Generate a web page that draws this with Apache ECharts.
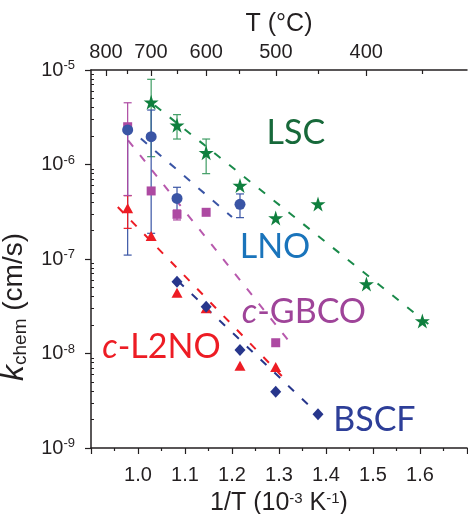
<!DOCTYPE html>
<html><head><meta charset="utf-8">
<script src="https://cdn.jsdelivr.net/npm/echarts@6/dist/echarts.min.js"></script>
<style>html,body{margin:0;padding:0;background:#fff}#c{width:468px;height:514px}</style>
</head><body><div id="c"></div>
<script>
// ---- data (x = 1/T in 10^-3 K^-1, y = k_chem in cm/s) ----
const lscX = [1.028, 1.083, 1.145, 1.217, 1.293, 1.383, 1.486, 1.605];
const lscK = [4.55e-6, 2.6e-6, 1.33e-6, 6.0e-7, 2.72e-7, 3.82e-7, 5.43e-8, 2.21e-8];
const lscErrX = [1.028, 1.083, 1.145];
const lscErrLo = [1.21e-6, 1.86e-6, 8.0e-7];
const lscErrHi = [7.97e-6, 3.37e-6, 1.86e-6];
const lscFitX = [1.036, 1.626];
const lscFitK = [4.21e-6, 1.90e-8];

const lnoX = [0.978, 1.028, 1.083, 1.217];
const lnoK = [2.32e-6, 1.97e-6, 4.38e-7, 3.79e-7];
const lnoErrX = [0.978, 1.028, 1.083, 1.217];
const lnoErrLo = [1.1e-7, 1.87e-7, 3.12e-7, 2.74e-7];
const lnoErrHi = [2.32e-6, 3.77e-6, 5.74e-7, 4.88e-7];
const lnoFitX = [1.006, 1.200];
const lnoFitK = [1.88e-6, 2.78e-7];

const gbcoX = [0.978, 1.028, 1.083, 1.145, 1.293];
const gbcoK = [2.51e-6, 5.25e-7, 2.97e-7, 3.12e-7, 1.30e-8];
const gbcoErrX = [0.978, 1.083];
const gbcoErrLo = [4.7e-7, 2.59e-7];
const gbcoErrHi = [4.5e-6, 3.3e-7];
const gbcoFitX = [0.979, 1.330];
const gbcoFitK = [1.80e-6, 1.19e-8];

const l2noX = [0.978, 1.028, 1.083, 1.145, 1.217, 1.293];
const l2noK = [3.44e-7, 1.75e-7, 4.39e-8, 3.01e-8, 7.4e-9, 7.2e-9];
const l2noErrX = [0.978];
const l2noErrLo = [2.11e-7];
const l2noErrHi = [4.68e-7];
const l2noFitX = [0.957, 1.306];
const l2noFitK = [3.55e-7, 5.78e-9];

const bscfX = [1.083, 1.145, 1.217, 1.293, 1.383];
const bscfK = [5.75e-8, 3.13e-8, 1.09e-8, 3.94e-9, 2.28e-9];
const bscfFitX = [1.085, 1.383];
const bscfFitK = [5.85e-8, 2.29e-9];

// ---- tick labels ----
const bottomTicks = [1.0, 1.1, 1.2, 1.3, 1.4, 1.5, 1.6];
const topTempMajor = [800, 700, 600, 500, 400];
const topTempMinor = [750, 650, 550, 450, 350];
const yDecades = [-9, -8, -7, -6, -5];
const yMinorMult = [2, 3, 4, 5, 6, 7, 8, 9];

// ---- annotation labels ----
const annotText = ['{n|LSC}', '{n|LNO}', '{i|c}{n|-GBCO}', '{i|c}{n|-L2NO}', '{n|BSCF}'];
const annotX = [1.336, 1.2915, 1.353, 1.050, 1.503];
const annotK = [2.15e-6, 1.34e-7, 2.75e-8, 1.17e-8, 1.98e-9];

// ---- colours ----
const C = {
  lsc: '#0f7f3e', lscErr: '#3f9d64', lscTxt: '#17693a',
  lno: '#3a55a5', lnoTxt: '#1a74bb',
  gbco: '#ad4aa2', gbcoTxt: '#9f4499',
  l2no: '#ed1c24',
  bscf: '#27368c', bscfTxt: '#2d3e98'
};
const AX = '#231f20';
const FONT = 'Liberation Sans';

const zip = (a, b) => a.map((v, i) => [v, b[i]]);
const zip3 = (a, b, c) => a.map((v, i) => [v, b[i], c[i]]);
const inv = t => 1000 / (t + 273.15);

const STAR = 'path://M50,0 L61.2,34.5 L97.6,34.5 L68.2,55.9 L79.4,90.5 L50,69.1 L20.6,90.5 L31.8,55.9 L2.4,34.5 L38.8,34.5 Z';

function errSeries(x, lo, hi, color) {
  return {
    type: 'custom', xAxisIndex: 0, yAxisIndex: 0, silent: true, z: 3,
    data: zip3(x, lo, hi),
    encode: { x: 0, y: [1, 2] },
    renderItem: function (params, api) {
      const xv = api.value(0);
      const p1 = api.coord([xv, api.value(2)]);
      const p2 = api.coord([xv, api.value(1)]);
      const w = 4;
      const st = { stroke: color, lineWidth: 1.2 };
      return {
        type: 'group', children: [
          { type: 'line', shape: { x1: p1[0], y1: p1[1], x2: p2[0], y2: p2[1] }, style: st },
          { type: 'line', shape: { x1: p1[0] - w, y1: p1[1], x2: p1[0] + w, y2: p1[1] }, style: st },
          { type: 'line', shape: { x1: p2[0] - w, y1: p2[1], x2: p2[0] + w, y2: p2[1] }, style: st }
        ]
      };
    }
  };
}
function fitSeries(x, k, color) {
  return {
    type: 'line', data: zip(x, k), symbol: 'none', silent: true, z: 2,
    lineStyle: { color: color, width: 2, type: [8, 11] }
  };
}
function markSeries(x, k, color, symbol, size) {
  return {
    type: 'scatter', data: zip(x, k), symbol: symbol, symbolSize: size, silent: true, z: 5,
    itemStyle: { color: color, opacity: 1 }
  };
}
function annotSeries() {
  return {
    type: 'custom', xAxisIndex: 0, yAxisIndex: 0, silent: true, z: 6,
    data: annotX.map((x, i) => [x, annotK[i], i]),
    encode: { x: 0, y: 1 },
    renderItem: function (params, api) {
      const i = api.value(2);
      const p = api.coord([api.value(0), api.value(1)]);
      const col = annotColors[i];
      return {
        type: 'text', x: p[0], y: p[1],
        style: {
          text: annotText[i], align: 'center', verticalAlign: 'middle',
          rich: {
            n: { fontSize: 34, fontFamily: 'Lato', fill: col },
            i: { fontSize: 34, fontFamily: 'Lato', fontStyle: 'italic', fill: col }
          }
        }
      };
    }
  };
}

const chart = echarts.init(document.getElementById('c'), null, { renderer: 'canvas' });

const annotColors = [C.lscTxt, C.lnoTxt, C.gbcoTxt, C.l2no, C.bscfTxt];

const option = {
  animation: false,
  backgroundColor: '#fff',
  grid: { left: 91, right: 1, top: 70, bottom: 66, containLabel: false, outerBoundsMode: 'none' },
  xAxis: [
    {
      type: 'value', position: 'bottom', min: 0.9, max: 1.7, interval: 0.1,
      axisLine: { show: true, onZero: false, lineStyle: { color: AX, width: 1.5 } },
      axisTick: { show: true, length: 6, inside: false, lineStyle: { color: AX, width: 1.2 } },
      minorTick: { show: true, splitNumber: 2, length: 3, lineStyle: { color: AX, width: 1.2 } },
      splitLine: { show: false },
      axisLabel: {
        showMinLabel: false, showMaxLabel: false, margin: 17,
        color: AX, fontFamily: FONT, fontSize: 20,
        formatter: v => bottomTicks.some(t => Math.abs(t - v) < 1e-6) ? v.toFixed(1) : ''
      },
      name: '1/T (10{s|-3} K{s|-1})', nameLocation: 'middle', nameGap: 43,
      nameTextStyle: {
        color: AX, fontFamily: FONT, fontSize: 25,
        rich: { s: { fontSize: 15, verticalAlign: 'top', lineHeight: 15, fontFamily: FONT, color: AX } }
      }
    },
    {
      type: 'value', position: 'top', min: 0.9, max: 1.7,
      axisLine: { show: true, onZero: false, lineStyle: { color: AX, width: 1.5 } },
      axisTick: { show: true, inside: true, length: 6, customValues: topTempMajor.map(inv), lineStyle: { color: AX, width: 1.2 } },
      splitLine: { show: false },
      axisLabel: {
        customValues: topTempMajor.map(inv), margin: 8,
        color: AX, fontFamily: FONT, fontSize: 20,
        formatter: v => String(Math.round(1000 / v - 273.15))
      },
      name: 'T (°C)', nameLocation: 'middle', nameGap: 28,
      nameTextStyle: { color: AX, fontFamily: FONT, fontSize: 25 }
    },
    {
      type: 'value', position: 'top', min: 0.9, max: 1.7,
      axisLine: { show: false },
      axisTick: { show: true, inside: true, length: 4, customValues: topTempMinor.map(inv), lineStyle: { color: AX, width: 1.2 } },
      splitLine: { show: false },
      axisLabel: { show: false }
    }
  ],
  yAxis: [
    {
      type: 'log', logBase: 10, min: 1e-9, max: 1e-5, position: 'left',
      axisLine: { show: true, onZero: false, lineStyle: { color: AX, width: 1.5 } },
      axisTick: { show: true, length: 6, inside: false, lineStyle: { color: AX, width: 1.2 } },
      splitLine: { show: false },
      axisLabel: {
        margin: 16, color: AX, fontFamily: FONT,
        formatter: v => '{b|10}{s|' + Math.round(Math.log10(v)) + '}',
        rich: {
          b: { fontSize: 20, lineHeight: 22, fontFamily: FONT, color: AX },
          s: { fontSize: 13, lineHeight: 13, verticalAlign: 'top', fontFamily: FONT, color: AX }
        }
      },
      name: '{k|k}{s|chem}{n| (cm/s)}', nameLocation: 'middle', nameGap: 52,
      nameTextStyle: {
        color: AX, fontFamily: FONT, padding: [0, 96, 0, 0],
        rich: {
          k: { fontSize: 32, fontStyle: 'italic', lineHeight: 32, fontFamily: FONT, color: AX },
          s: { fontSize: 19, lineHeight: 19, verticalAlign: 'bottom', fontFamily: FONT, color: AX },
          n: { fontSize: 28, lineHeight: 32, fontFamily: FONT, color: AX }
        }
      }
    },
    {
      // minor ticks of the log axis, drawn on a companion axis in log10 units
      type: 'value', min: -9, max: -5, position: 'left',
      axisLine: { show: false },
      axisTick: {
        show: true, length: 3, inside: true,
        customValues: yDecades.slice(0, 4).flatMap(d => yMinorMult.map(m => d + Math.log10(m))),
        lineStyle: { color: AX, width: 1 }
      },
      splitLine: { show: false },
      axisLabel: { show: false }
    }
  ],
  series: [
    fitSeries(lscFitX, lscFitK, '#1a8a4a'),
    fitSeries(lnoFitX, lnoFitK, C.lno),
    fitSeries(gbcoFitX, gbcoFitK, '#b859ad'),
    fitSeries(l2noFitX, l2noFitK, C.l2no),
    fitSeries(bscfFitX, bscfFitK, C.bscf),
    errSeries(lscErrX, lscErrLo, lscErrHi, C.lscErr),
    errSeries(lnoErrX, lnoErrLo, lnoErrHi, C.lno),
    errSeries(l2noErrX, l2noErrLo, l2noErrHi, C.l2no),
    errSeries(gbcoErrX, gbcoErrLo, gbcoErrHi, C.gbco),
    markSeries(lscX, lscK, C.lsc, STAR, 15),
    markSeries(gbcoX, gbcoK, C.gbco, 'rect', 9),
    markSeries(lnoX, lnoK, C.lno, 'circle', 11),
    markSeries(l2noX, l2noK, C.l2no, 'triangle', [11, 10]),
    markSeries(bscfX, bscfK, C.bscf, 'diamond', [11, 12]),
    annotSeries()
  ]
};
chart.setOption(option);
</script>
</body></html>
